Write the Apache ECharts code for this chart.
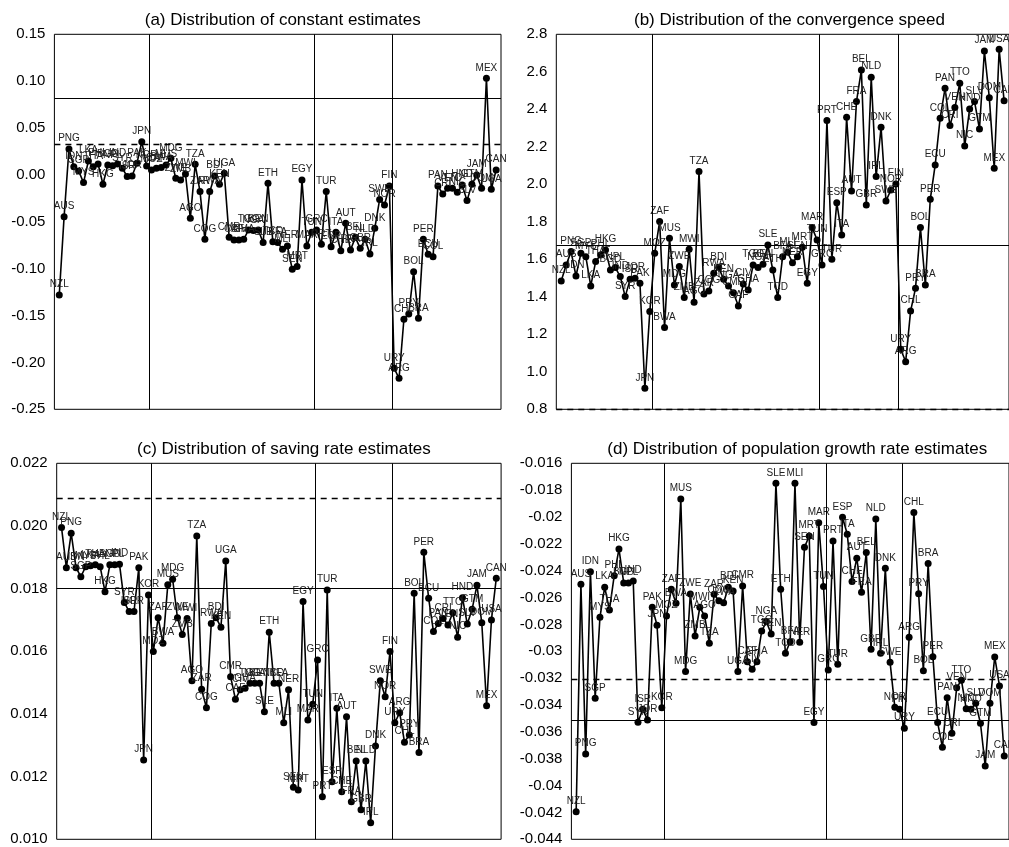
<!DOCTYPE html>
<html><head><meta charset="utf-8">
<script src="https://cdn.jsdelivr.net/npm/echarts@6/dist/echarts.min.js"></script>
<style>html,body{margin:0;padding:0;background:#fff}#c{width:1009px;height:847px}</style>
</head><body><div id="c"></div>
<script>
// Countries, same order on every panel (regions separated by vertical lines)
const countries = ['NZL','AUS','PNG','IDN','SGP','MYS','LKA','THA','PHL','HKG','BGD','NPL','IND','SYR','ISR','JOR','PAK','JPN','KOR',
 'MOZ','ZAF','BWA','MUS','MDG','ZWE','ZMB','MWI','AGO','TZA','ZAR','COG','RWA','BDI','KEN','UGA','CMR','CAF','CIV','GHA','TGO','NGA','BEN','SLE','ETH','TCD','BFA','MLI','NER','SEN','MRT','EGY','MAR','TUN',
 'GRC','PRT','TUR','ESP','ITA','CHE','AUT','FRA','BEL','GBR','NLD','IRL','DNK','SWE','NOR','FIN',
 'URY','ARG','CHL','PRY','BOL','BRA','PER','ECU','COL','PAN','CRI','VEN','TTO','NIC','HND','SLV','GTM','JAM','DOM','MEX','USA','CAN'];

const titles = ['(a) Distribution of constant estimates','(b) Distribution of the convergence speed',
  '(c) Distribution of saving rate estimates','(d) Distribution of population growth rate estimates'];

const constantEst = [-0.128,-0.0445,0.0277,0.0088,0.0042,-0.0082,0.0149,0.0088,0.0117,-0.0100,0.0106,0.0099,0.0117,0.0071,-0.0018,-0.0011,0.0124,0.0355,0.0095,
 0.0053,0.0071,0.0078,0.0106,0.0177,-0.0036,-0.0054,0.0010,-0.0463,0.0113,-0.0178,-0.0687,-0.0178,-0.0011,-0.0100,0.0017,-0.0666,-0.0694,-0.0694,-0.0687,-0.0587,-0.0594,-0.0587,-0.0722,-0.0090,-0.0712,-0.0722,-0.0794,-0.0758,-0.1007,-0.0978,-0.0054,-0.0758,-0.0612,
 -0.0587,-0.0740,-0.0178,-0.0765,-0.0612,-0.0808,-0.0516,-0.0801,-0.0666,-0.0783,-0.0687,-0.0843,-0.0570,-0.0261,-0.0321,-0.0118,
 -0.2063,-0.2170,-0.1540,-0.1483,-0.1032,-0.1530,-0.0687,-0.0847,-0.0872,-0.0118,-0.0203,-0.0143,-0.0143,-0.0186,-0.0107,-0.0274,-0.0100,-0.0001,-0.0143,0.1031,-0.0153,0.0053];

const convSpeed = [1.484,1.570,1.641,1.511,1.632,1.614,1.458,1.588,1.623,1.650,1.543,1.556,1.508,1.401,1.493,1.499,1.472,0.912,1.321,
 1.632,1.801,1.236,1.712,1.463,1.561,1.396,1.653,1.371,2.068,1.415,1.431,1.525,1.557,1.493,1.458,1.422,1.351,1.468,1.436,1.570,1.556,1.573,1.676,1.543,1.396,1.614,1.637,1.582,1.614,1.664,1.472,1.769,1.703,
 1.570,2.340,1.600,1.902,1.730,2.357,1.964,2.441,2.610,1.890,2.571,2.041,2.304,1.911,1.970,2.002,
 1.120,1.054,1.324,1.445,1.769,1.463,1.920,2.103,2.352,2.512,2.313,2.409,2.539,2.204,2.402,2.441,2.295,2.711,2.462,2.085,2.720,2.446];

const savingEst = [0.01995,0.01867,0.01977,0.01867,0.01838,0.0187,0.01873,0.01876,0.0187,0.0179,0.01876,0.01876,0.01878,0.01756,0.01727,0.01727,0.01867,0.01253,0.0178,
 0.01599,0.01707,0.01626,0.01812,0.0183,0.01707,0.01654,0.01705,0.01506,0.01968,0.01479,0.0142,0.01689,0.01707,0.01677,0.01888,0.01519,0.01447,0.01477,0.01482,0.01498,0.01498,0.01498,0.01407,0.01661,0.01498,0.01498,0.01372,0.01477,0.01166,0.01157,0.01759,0.01381,0.01431,
 0.01572,0.01136,0.01796,0.01184,0.01418,0.01152,0.01391,0.0112,0.0125,0.01094,0.0125,0.01053,0.01298,0.01506,0.01455,0.01599,
 0.01372,0.01404,0.0131,0.01333,0.01785,0.01277,0.01916,0.01769,0.01663,0.01689,0.01705,0.01684,0.01723,0.01645,0.01771,0.01687,0.01734,0.01811,0.01691,0.01426,0.017,0.01833];

const popEst = [-0.04194,-0.02501,-0.03765,-0.02407,-0.0335,-0.02747,-0.02523,-0.02692,-0.02437,-0.02238,-0.02491,-0.02491,-0.02476,-0.03529,-0.03432,-0.03511,-0.02672,-0.02806,-0.0342,
 -0.02737,-0.02538,-0.02643,-0.01866,-0.03151,-0.02573,-0.02886,-0.02672,-0.02737,-0.0294,-0.02576,-0.02623,-0.02638,-0.02523,-0.02551,-0.03151,-0.02513,-0.03077,-0.03134,-0.03077,-0.02849,-0.02779,-0.02871,-0.01749,-0.02538,-0.03015,-0.02928,-0.01749,-0.02933,-0.02226,-0.02141,-0.03531,-0.02042,-0.02518,
 -0.03139,-0.02178,-0.03097,-0.02002,-0.02129,-0.02481,-0.02307,-0.02561,-0.02265,-0.02985,-0.02015,-0.03015,-0.02382,-0.03082,-0.03417,-0.03432,
 -0.03573,-0.02896,-0.01967,-0.02571,-0.03144,-0.02347,-0.0304,-0.03531,-0.03715,-0.03345,-0.03611,-0.03271,-0.03216,-0.03427,-0.03432,-0.03387,-0.03536,-0.03854,-0.03387,-0.03042,-0.03258,-0.0378];

// reference lines
const solidRef = [0.082, 1.676, 0.018, -0.0351];
const dashedRef = [0.033, 0.801, 0.0209, -0.0321];
const regionBreaks = [19.5, 53.5, 69.5];

// y axis ranges and tick steps
const yMin = [-0.25, 0.8, 0.010, -0.044];
const yMax = [0.15, 2.8, 0.022, -0.016];
const yStep = [0.05, 0.2, 0.002, 0.002];
const yDecimals = [2, 1, 3, -1];

const seriesVals = [constantEst, convSpeed, savingEst, popEst];

const grids = [
  {left: 54.4, top: 34.3, width: 446.6, height: 375},
  {left: 556.3, top: 34.3, width: 456.3, height: 375},
  {left: 56.7, top: 463.3, width: 444.4, height: 376},
  {left: 571.4, top: 463.3, width: 441.6, height: 376}
];
const FONT = 'Liberation Sans';

const option = {
  animation: false,
  backgroundColor: '#fff',
  title: titles.map((t, k) => ({
    text: t, left: grids[k].left + grids[k].width / 2, top: grids[k].top - 27, textAlign: 'center',
    textStyle: {fontFamily: FONT, fontSize: 17, fontWeight: 'normal', color: '#000'}
  })),
  grid: grids.map(g => Object.assign({show: true, borderColor: '#000', borderWidth: 1, backgroundColor: 'transparent', containLabel: false}, g)),
  xAxis: grids.map((g, k) => ({
    type: 'value', gridIndex: k, min: 0, max: 92,
    axisLine: {show: false}, axisTick: {show: false}, axisLabel: {show: false}, splitLine: {show: false}
  })),
  yAxis: grids.map((g, k) => ({
    type: 'value', gridIndex: k, min: yMin[k], max: yMax[k], interval: yStep[k],
    axisLine: {show: false}, axisTick: {show: false}, splitLine: {show: false},
    axisLabel: {
      fontFamily: FONT, fontSize: 15, color: '#000', margin: 9, padding: [3, 0, 0, 0],
      formatter: v => yDecimals[k] >= 0 ? v.toFixed(yDecimals[k]) : String(+v.toFixed(3))
    }
  })),
  series: seriesVals.map((vals, k) => ({
    type: 'line', xAxisIndex: k, yAxisIndex: k,
    data: vals.map((v, i) => ({value: [i + 1, v], name: countries[i]})),
    symbol: 'circle', symbolSize: 7,
    lineStyle: {color: '#000', width: 1.6},
    itemStyle: {color: '#000'},
    label: {show: true, position: 'top', distance: 2, formatter: '{b}', fontFamily: FONT, fontSize: 10, color: '#222'},
    markLine: {
      silent: true, symbol: 'none', label: {show: false}, animation: false, precision: 8,
      data: [
        {yAxis: solidRef[k], lineStyle: {color: '#000', width: 1, type: 'solid'}},
        {yAxis: dashedRef[k], lineStyle: {color: '#000', width: 1.3, type: [6, 5]}}
      ].concat(regionBreaks.map(b => ({xAxis: b, lineStyle: {color: '#000', width: 1, type: 'solid'}})))
    }
  }))
};

const chart = echarts.init(document.getElementById('c'), null, {renderer: 'canvas'});
chart.setOption(option);
</script>
</body></html>
